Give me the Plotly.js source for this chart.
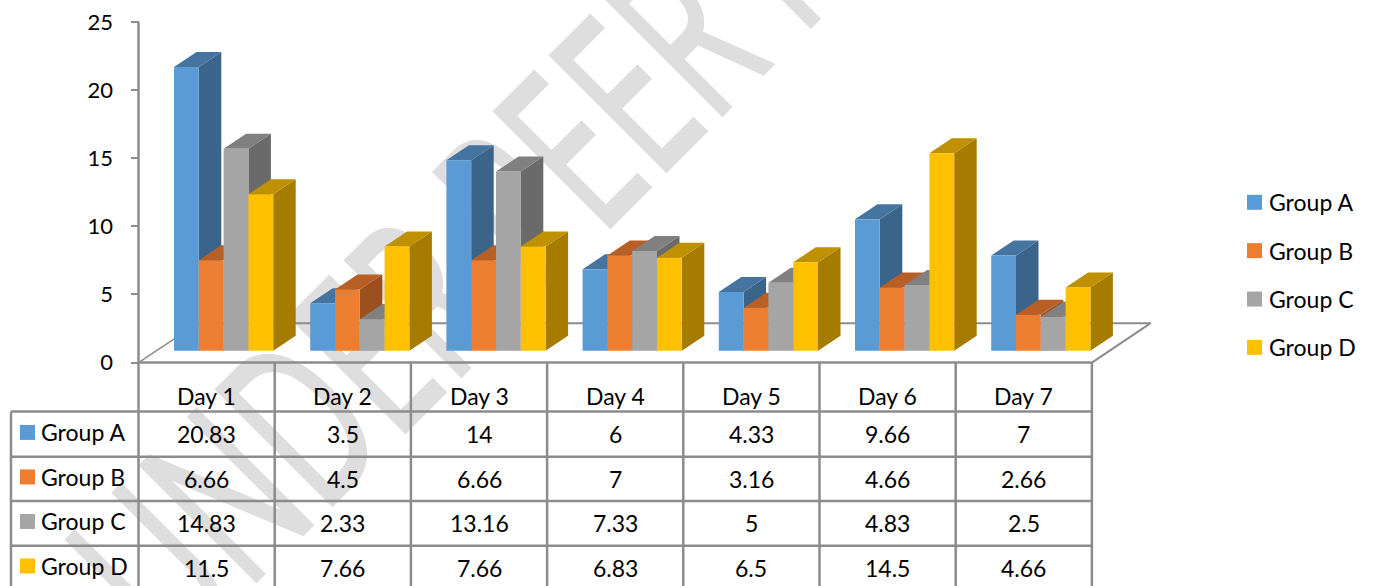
<!DOCTYPE html>
<html>
<head>
<meta charset="utf-8">
<script src="https://cdn.plot.ly/plotly-3.0.1.min.js"></script>
<style>
html,body{margin:0;padding:0;background:#fff;overflow:hidden;width:1375px;height:586px}
#wm{position:absolute;left:0;top:0;width:1375px;height:586px;overflow:hidden;z-index:0}
#wm span{position:absolute;left:173px;top:461.5px;transform-origin:0 202.5px;transform:rotate(-45deg) scaleX(.625);
 white-space:pre;font:400 228px/1 "Open Sans",sans-serif;color:#dedede;-webkit-text-stroke:4px #dedede}
#chart{position:absolute;left:0;top:0;z-index:1}
</style>
</head>
<body>
<div id="wm"><span>UNDER PEER REVIEW</span></div>
<div id="chart"></div>
<script>
const days = ["Day 1","Day 2","Day 3","Day 4","Day 5","Day 6","Day 7"];
const groupNames = ["Group A","Group B","Group C","Group D"];
const groupA = [20.83,3.5,14,6,4.33,9.66,7];
const groupB = [6.66,4.5,6.66,7,3.16,4.66,2.66];
const groupC = [14.83,2.33,13.16,7.33,5,4.83,2.5];
const groupD = [11.5,7.66,7.66,6.83,6.5,14.5,4.66];
const yTicks = [0,5,10,15,20,25];
const frontColors = ["#5B9BD5","#ED7D31","#A5A5A5","#FFC000"];
const sideColors  = ["#3B648B","#9C501D","#6A6A6A","#A67C00"];
const topColors   = ["#4674A0","#B75F24","#808080","#BF9000"];

const series = [groupA,groupB,groupC,groupD];
const W=1375,H=586,T=22.3,ORIGX=138.5,ORIGY=362.7,CELL=136.2,UNIT=13.616;
const X=p=>(p-ORIGX)/CELL, Y=p=>(ORIGY-p)/UNIT;
const DX=22.5/CELL, DY=15/UNIT, BASE=Y(351), BARW=24.8/CELL, START=35.5/CELL;
const GRID="#8c8c8c";
const FONT="Lato, sans-serif";
const traces=[];

series.forEach((vals,s)=>{
  const sx=[],sy=[],tx=[],ty=[];
  vals.forEach((v,d)=>{
    const x0=d+START+s*BARW,x1=x0+BARW,top=BASE+v;
    sx.push(x1,x1+DX,x1+DX,x1,x1,null);
    sy.push(BASE,BASE+DY,top+DY,top,BASE,null);
    tx.push(x0,x1,x1+DX,x0+DX,x0,null);
    ty.push(top,top,top+DY,top+DY,top,null);
  });
  traces.push({type:"scatter",mode:"lines",x:sx,y:sy,fill:"toself",fillcolor:sideColors[s],
    line:{width:0,color:sideColors[s]},hoverinfo:"skip",showlegend:false,zorder:2*s+1});
  traces.push({type:"scatter",mode:"lines",x:tx,y:ty,fill:"toself",fillcolor:topColors[s],
    line:{width:0,color:topColors[s]},hoverinfo:"skip",showlegend:false,zorder:2*s+1});
  traces.push({type:"bar",name:groupNames[s],x:days.map((_,d)=>d+0.5),y:vals,base:BASE,
    width:BARW,offset:START-0.5+s*BARW,marker:{color:frontColors[s],line:{width:0}},
    showlegend:false,zorder:2*s+2,hovertemplate:"%{fullData.name}: %{customdata}<extra></extra>",customdata:vals});
});

// key squares: one in the table row, one in the legend column
const keyY=[432.5,477,521.5,566];
const legY=[202.5,250.8,299.2,347.5];
series.forEach((vals,s)=>{
  traces.push({type:"scatter",mode:"markers",name:groupNames[s],showlegend:false,
    x:[X(27.5),X(1254.5)],y:[Y(keyY[s]),Y(legY[s])],marker:{symbol:"square",size:15,color:frontColors[s],line:{width:0}},
    hoverinfo:"skip",zorder:20});
});

const shapes=[];
const ln=(x0,y0,x1,y1,w)=>shapes.push({type:"line",layer:"below",xref:"x",yref:"y",x0,y0,x1,y1,line:{color:GRID,width:w||2}});
// value axis line
ln(0,Y(H),0,25,2.5);
// floor
ln(0,0,X(198),Y(323.3),1.5);
ln(X(198),Y(323.3),X(1150.7),Y(323.3),2);
ln(X(1150.7),Y(323.3),7,0,2);
// table grid
const rowLines=[411.7,456.7,501,545.7];
ln(0,0,7,0,2.5);
for(let i=1;i<=7;i++) ln(i,0,i,Y(H),2.5);
rowLines.forEach(p=>ln(X(11),Y(p),7,Y(p),2.5));
ln(X(11),Y(411.7),X(11),Y(H),2.5);

const anns=[];
const txt=(x,y,text,anchor)=>anns.push({xref:"x",yref:"y",x,y,text,showarrow:false,xanchor:anchor||"center",yanchor:"middle",
  font:{family:FONT,size:23,color:"#000"},borderpad:0,borderwidth:0});
days.forEach((d,i)=>txt(i+0.5,Y(396.5),d));
const rowY=[433,478.5,522.5,567.5];
series.forEach((vals,s)=>{
  txt(X(41),Y(rowY[s]-1),groupNames[s],"left");
  vals.forEach((v,d)=>txt(d+0.5,Y(rowY[s]+1),String(v)));
  txt(X(1268.5),Y(legY[s]),groupNames[s],"left");
});

const layout={
  width:W,height:H,margin:{l:0,r:0,t:T,b:0,pad:0},
  paper_bgcolor:"rgba(0,0,0,0)",plot_bgcolor:"rgba(0,0,0,0)",
  barmode:"overlay",
  showlegend:false,
  xaxis:{range:[X(0),X(W)],visible:false,fixedrange:true},
  yaxis:{range:[Y(H),25],anchor:"free",position:ORIGX/W,tickmode:"array",tickvals:yTicks,ticktext:yTicks.map(String),
    ticks:"outside",ticklen:8,tickwidth:2,tickcolor:GRID,showline:false,
    showgrid:false,zeroline:false,ticklabelstandoff:13,tickfont:{family:FONT,size:22,color:"#000"},fixedrange:true},
  shapes,annotations:anns,font:{family:FONT}
};
Plotly.newPlot("chart",traces,layout,{displayModeBar:false});
</script>
</body>
</html>
